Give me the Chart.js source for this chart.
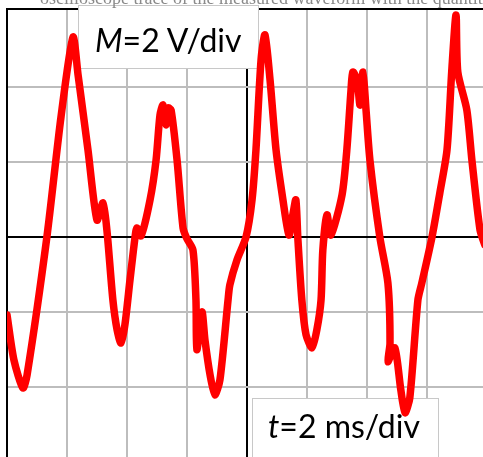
<!DOCTYPE html>
<html lang="en">
<head>
  <meta charset="UTF-8">
  <title>Waveform M=2 V/div, t=2 ms/div</title>
  <script src="https://cdn.jsdelivr.net/npm/chart.js"></script>
  <style>
    body { margin: 0; background: #fff; overflow: hidden; }
    .wrap { position: relative; width: 483px; height: 457px; overflow: hidden; }
    canvas { position: absolute; left: 0; top: 0; }
    .cut {
      position: absolute; left: 40px; top: -12px; white-space: nowrap;
      font-family: "Liberation Serif", serif; font-size: 18px; color: #8a8a8a;
    }
    .lbl {
      position: absolute; white-space: nowrap;
      font-family: Lato, "Open Sans", sans-serif; font-size: 32px; line-height: 32px; color: #000;
    }
    .lbl i { font-style: italic; }
  </style>
</head>
<body>
  <div class="wrap">
    <canvas id="scope" width="483" height="457"></canvas>
    <div class="cut">oscilloscope trace of the measured waveform with the quantity of interest</div>
    <div class="lbl" style="left:95px; top:24px;"><i>M</i>=2 V/div</div>
    <div class="lbl" style="left:268px; top:410px;"><i>t</i>=2 ms/div</div>
  </div>

  <script>
    // time (ms) and voltage (V), 2 ms/div and 2 V/div
    const timeMs = [
      -8.0, -7.77, -7.47, -7.33, -6.67, -6.2, -5.8, -5.63, -5.3, -5.0,
      -4.8, -4.67, -4.47, -4.33, -4.2, -4.07, -3.9, -3.73, -3.67, -3.53,
      -3.23, -3.03, -2.9, -2.8, -2.7, -2.63, -2.53, -2.33, -2.13, -2.0,
      -1.8, -1.7, -1.67, -1.5, -1.4, -1.23, -1.07, -0.9, -0.63, -0.57,
      -0.33, -0.03, 0.17, 0.3, 0.47, 0.6, 0.77, 0.97, 1.2, 1.4,
      1.53, 1.63, 1.7, 1.83, 1.97, 2.17, 2.33, 2.47, 2.53, 2.67,
      2.8, 3.17, 3.33, 3.47, 3.53, 3.67, 3.77, 3.87, 3.97, 4.1,
      4.43, 4.7, 4.77, 4.7, 4.93, 5.13, 5.27, 5.43, 5.7, 5.83,
      6.17, 6.43, 6.67, 6.83, 6.97, 7.03, 7.33, 7.5, 7.77, 7.93
    ];
    const volts = [
      -2.08, -3.28, -4.03, -3.68, 0, 3.2, 5.33, 4.32, 2.32, 0.45,
      0.91, 0.19, -1.68, -2.48, -2.83, -2.35, -1.15, 0, 0.24, 0.03,
      0.99, 2.05, 3.25, 3.52, 2.99, 3.44, 3.39, 2.05, 0.24, -0.05,
      -0.35, -1.68, -3.01, -2.0, -2.75, -3.68, -4.21, -3.81, -1.68, -1.28,
      -0.61, 0, 0.99, 2.32, 4.72, 5.39, 4.19, 2.32, 0.99, 0.05,
      0.59, 0.99, -0.08, -1.68, -2.61, -2.96, -2.48, -1.68, -0.35, 0.59,
      0.05, 1.12, 2.32, 3.92, 4.4, 4.19, 3.52, 4.4, 3.39, 2.05,
      0, -1.23, -2.83, -3.33, -2.96, -4.08, -4.69, -4.29, -1.68, -1.23,
      0, 1.17, 2.32, 4.45, 5.92, 4.4, 3.39, 2.05, 0.19, -0.21
    ];
    const xTicks = [-8, -6, -4, -2, 0, 2, 4, 6];
    const yTicks = [-4, -2, 0, 2, 4];

    const gridGray = '#bdbdbd';

    // white label boxes behind the trace, in data units
    const labelBoxes = [
      { x0: -5.63, x1: 0.37, y0: 6.2, y1: 4.5 },
      { x0: 0.17, x1: 6.37, y0: -4.29, y1: -6.2 }
    ];
    const boxPlugin = {
      id: 'boxes',
      beforeDatasetsDraw(chart) {
        const { ctx, scales } = chart;
        ctx.save();
        labelBoxes.forEach(b => {
          const l = Math.round(scales.x.getPixelForValue(b.x0)) + 0.5;
          const r = Math.round(scales.x.getPixelForValue(b.x1)) + 0.5;
          const t = Math.round(scales.y.getPixelForValue(b.y0)) + 0.5;
          const btm = Math.round(scales.y.getPixelForValue(b.y1)) + 0.5;
          ctx.fillStyle = '#fff';
          ctx.fillRect(l, t, r - l, btm - t);
          ctx.strokeStyle = '#c8c8c8';
          ctx.lineWidth = 1;
          ctx.strokeRect(l, t, r - l, btm - t);
        });
        ctx.restore();
      }
    };

    new Chart(document.getElementById('scope'), {
      type: 'scatter',
      data: {
        datasets: [{
          data: timeMs.map((t, i) => ({ x: t, y: volts[i] })),
          showLine: true,
          borderColor: '#ff0000',
          borderWidth: 7.5,
          pointRadius: 0,
          tension: 0.25,
          borderJoinStyle: 'round',
          borderCapStyle: 'round'
        }]
      },
      options: {
        responsive: false,
        animation: false,
        layout: { padding: { left: 7, top: 9, right: 0, bottom: 0 } },
        plugins: { legend: { display: false }, tooltip: { enabled: false } },
        scales: {
          x: {
            type: 'linear',
            position: 'top',
            min: -8,
            max: 7.87,
            afterBuildTicks: s => { s.ticks = xTicks.map(v => ({ value: v })); },
            ticks: { display: false },
            grid: {
              drawTicks: false,
              lineWidth: 2,
              color: c => (c.tick && c.tick.value === 0) ? '#000' : gridGray
            },
            border: { display: true, color: '#000', width: 2 }
          },
          y: {
            min: -5.87,
            max: 6.08,
            afterBuildTicks: s => { s.ticks = yTicks.map(v => ({ value: v })); },
            ticks: { display: false },
            grid: {
              drawTicks: false,
              lineWidth: 2,
              color: c => (c.tick && c.tick.value === 0) ? '#000' : gridGray
            },
            border: { display: true, color: '#000', width: 2 }
          }
        }
      },
      plugins: [boxPlugin]
    });
  </script>
</body>
</html>
